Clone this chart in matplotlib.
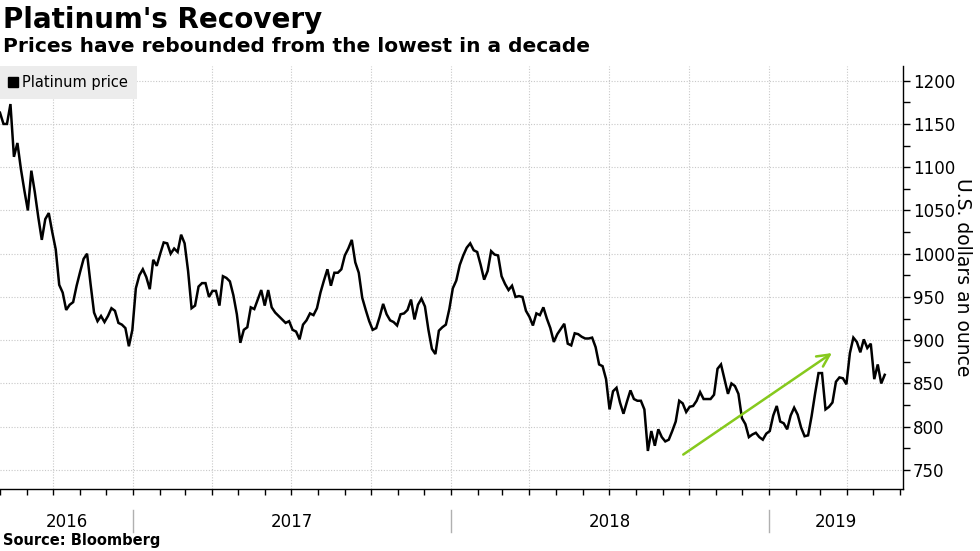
import pandas as pd
import matplotlib
matplotlib.use("Agg")
import matplotlib.pyplot as plt
import matplotlib.dates as mdates
import matplotlib.transforms as mtransforms
from matplotlib.lines import Line2D

# Platinum price, every 4 days from 2016-08-01
start_date = "2016-08-01"
prices = [
    1163, 1150, 1150, 1173, 1112, 1128, 1098, 1073, 1050, 1096,
    1071, 1042, 1016, 1040, 1047, 1025, 1005, 964, 955, 935,
    941, 944, 963, 979, 994, 1000, 965, 932, 922, 928,
    921, 928, 937, 934, 920, 918, 914, 893, 912, 960,
    975, 982, 973, 959, 993, 986, 1000, 1013, 1012, 1000,
    1006, 1002, 1022, 1012, 980, 937, 940, 962, 966, 966,
    950, 957, 957, 940, 974, 972, 968, 952, 930, 897,
    912, 915, 938, 936, 947, 958, 940, 958, 938, 932,
    928, 924, 920, 922, 912, 910, 901, 918, 923, 931,
    929, 937, 955, 969, 982, 963, 978, 978, 982, 998,
    1006, 1016, 990, 978, 949, 935, 922, 912, 914, 927,
    942, 930, 923, 921, 917, 930, 931, 935, 947, 924,
    941, 948, 939, 912, 890, 884, 911, 915, 918, 936,
    960, 969, 987, 998, 1007, 1012, 1004, 1002, 987, 970,
    980, 1003, 999, 998, 974, 965, 958, 963, 950, 951,
    950, 934, 927, 917, 931, 929, 938, 925, 914, 898,
    907, 913, 919, 896, 894, 908, 907, 904, 902, 902,
    903, 892, 872, 870, 855, 820, 841, 845, 828, 815,
    829, 842, 832, 830, 830, 820, 772, 795, 778, 797,
    788, 783, 785, 795, 806, 830, 827, 817, 823, 824,
    830, 840, 832, 832, 832, 837, 867, 872, 855, 838,
    850, 847, 838, 810, 803, 788, 791, 793, 788, 785,
    792, 795, 813, 824, 806, 804, 797, 813, 822, 814,
    799, 789, 790, 812, 838, 862, 862, 820, 823, 828,
    852, 857, 856, 849, 885, 903, 898, 886, 901, 891,
    896, 855, 872, 850, 860,
]
dates = pd.date_range(start_date, periods=len(prices), freq="4D")

x_limits = [pd.Timestamp("2016-08-01"), pd.Timestamp("2019-06-04")]
y_limits = [728, 1217]
year_labels = ["2016", "2017", "2018", "2019"]
year_starts = [pd.Timestamp("2017-01-01"), pd.Timestamp("2018-01-01"), pd.Timestamp("2019-01-01")]

# green trend arrow
arrow_from = (pd.Timestamp("2018-09-22"), 766)
arrow_to = (pd.Timestamp("2019-03-17"), 887)

plt.rcParams["font.family"] = ["DejaVu Sans"]

fig = plt.figure(figsize=(9.8, 5.51), dpi=100)
ax = fig.add_axes([0.0, 1 - 489 / 551, 903 / 980, (489 - 66) / 551])

ax.plot(dates, prices, color="black", lw=1.8, solid_joinstyle="miter")

ax.annotate("", xy=arrow_to, xytext=arrow_from,
            arrowprops=dict(arrowstyle="->", color="#86c91d", lw=1.8,
                            mutation_scale=22))

ax.set_xlim(x_limits)
ax.set_ylim(y_limits)

# axes styling
ax.yaxis.tick_right()
ax.yaxis.set_label_position("right")
ax.set_yticks(range(750, 1201, 50))
ax.set_yticks(range(775, 1201, 50), minor=True)
ax.tick_params(axis="y", which="both", direction="out", length=5, width=1,
               labelsize=12, pad=2)
ax.set_ylabel("U.S. dollars an ounce", rotation=270, fontsize=13.5, labelpad=12)

ax.xaxis.set_major_locator(mdates.MonthLocator(bymonth=[1, 4, 7, 10]))
ax.xaxis.set_minor_locator(mdates.MonthLocator())
ax.tick_params(axis="x", which="both", direction="out", length=4, width=1,
               labelbottom=False)

for side in ["left", "top"]:
    ax.spines[side].set_visible(False)
for side in ["right", "bottom"]:
    ax.spines[side].set_linewidth(1.0)

ax.grid(True, which="major", color="#c8c8c8", lw=0.8, linestyle=(0, (1, 1.5)))

# year labels centred under each span, separators between
trans = mtransforms.blended_transform_factory(ax.transData, ax.transAxes)
bounds = [mdates.date2num(x_limits[0])] + [mdates.date2num(d) for d in year_starts] + [mdates.date2num(x_limits[1])]
for i, lab in enumerate(year_labels):
    mid = (bounds[i] + bounds[i + 1]) / 2
    ax.text(mid, -0.077, lab, transform=trans, ha="center", va="center", fontsize=12)
for b in bounds[1:-1]:
    ax.plot([b, b], [-0.05, -0.101], transform=trans, color="#b0b0b0", lw=1, clip_on=False)

# legend
handle = Line2D([], [], marker="s", color="black", linestyle="none", markersize=7)
leg = ax.legend([handle], ["Platinum price"], loc="upper left", bbox_to_anchor=(0.0, 1.0),
                borderaxespad=0.0, frameon=True, fancybox=False, fontsize=10.5,
                handlelength=0.6, handletextpad=0.3, borderpad=0.6)
leg.get_frame().set_facecolor("#ececec")
leg.get_frame().set_edgecolor("none")
leg.get_frame().set_alpha(1)

# titles and source
fig.text(0.003, 1 - 6 / 551, "Platinum's Recovery", fontsize=20, fontweight="bold", va="top", ha="left")
fig.text(0.003, 1 - 37 / 551, "Prices have rebounded from the lowest in a decade", fontsize=14.5,
         fontweight="bold", va="top", ha="left")
fig.text(0.003, 1 - 533 / 551, "Source: Bloomberg", fontsize=10.5, fontweight="bold", va="top", ha="left")

fig.savefig("out.png", dpi=100)
